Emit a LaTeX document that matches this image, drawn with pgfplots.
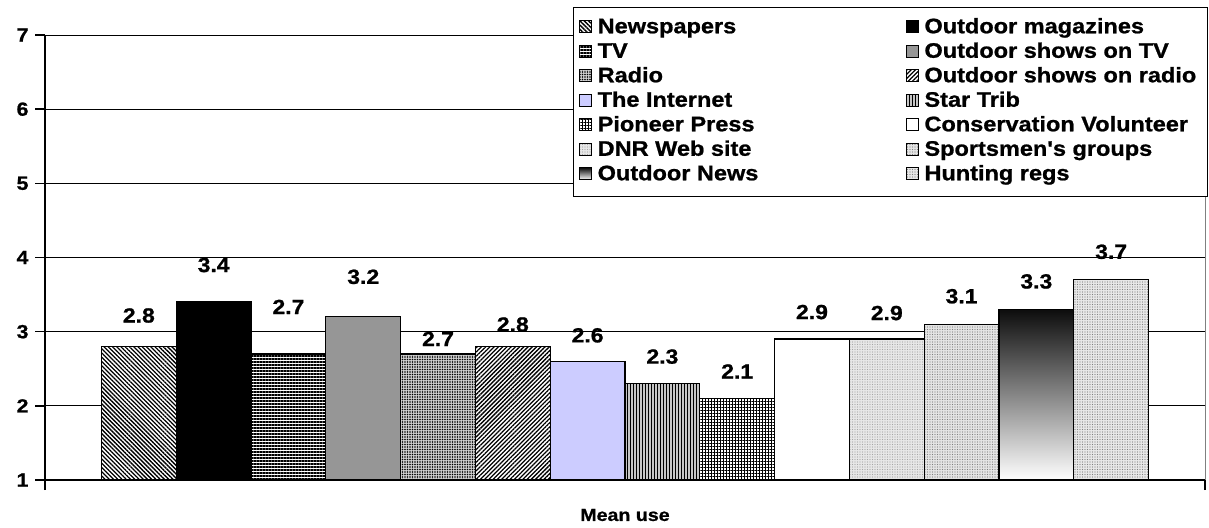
\documentclass[border=0pt]{standalone}
\usepackage{fontspec}
\setmainfont{Liberation Sans}[FakeStretch=1.12, Ligatures=TeXOff, BoldFeatures={FakeBold=1}]
\usepackage{pgfplots}
\pgfplotsset{compat=1.18}
\usetikzlibrary{patterns.meta}
\definecolor{ostv}{HTML}{969696}
\definecolor{inet}{HTML}{CCCCFF}
\newcommand{\la}[1]{\makebox[310pt][l]{\hspace{4pt}#1}}
\newcommand{\lb}[1]{\makebox[280pt][l]{\hspace{4pt}#1}}
\begin{document}
\begin{tikzpicture}
\useasboundingbox (0,0) rectangle (1209pt,527pt);
\begin{axis}[
  at={(45pt,47pt)}, anchor=south west,
  scale only axis, width=1160pt, height=445pt,
  xmin=-1.255, xmax=14.255, ymin=1, ymax=7,
  ytick={1,2,3,4,5,6,7},
  xtick={-1.255,14.255}, xticklabels={},
  axis lines=left, axis line style={-, line width=2pt},
  tick align=outside, major tick length=10pt,
  tick style={line width=1.5pt, black},
  ymajorgrids, grid style={line width=1pt, black},
  ticklabel style={font=\fontsize{19}{19}\selectfont\bfseries},
  yticklabel style={xshift=-3pt},
  /pgf/number format/assume math mode=true,
  /pgf/number format/.cd, fixed, precision=1, /pgfplots/.cd,
  xlabel={Mean use},
  xlabel style={at={(axis description cs:0.5,0)}, anchor=center, yshift=-35pt, font=\fontsize{17.5}{17.5}\selectfont\bfseries},
  mybar/.style={ybar, bar width=1, bar shift=0pt, draw=black, line width=1.3pt},
  lab/.style={nodes near coords, every node near coord/.append style={anchor=center, yshift=#1pt, font=\fontsize{20.5}{20.5}\selectfont\bfseries}},
  legend columns=2,
  legend cell align=left,
  legend image code/.code={\draw[#1, line width=0.8pt] (0pt,-4.5pt) rectangle (12pt,7.5pt);},
  legend style={at={(axis description cs:1,1)}, anchor=north east, xshift=3pt, yshift=28pt,
    draw=black, line width=1pt, fill=white, inner xsep=5pt, inner ysep=8.5pt,
    font=\fontsize{21}{21}\selectfont\bfseries,
    nodes={inner xsep=2pt, inner ysep=2.25pt, text height=15pt, text depth=5pt},
    row sep=0pt},
  after end axis/.code={\draw[gray, line width=1pt] (rel axis cs:1,0) -- (rel axis cs:1,1);},
]
% Newspapers
\addplot[mybar, fill=white, postaction={pattern={Lines[angle=-45,distance=3pt,line width=1.3pt]}}, lab=31] coordinates {(0,2.8)};
\addlegendentry{\la{Newspapers}}
% Outdoor magazines
\addplot[mybar, fill=black, lab=37] coordinates {(1,3.4)};
\addlegendentry{\lb{Outdoor magazines}}
% TV
\addplot[mybar, fill=white, postaction={pattern={Lines[angle=0,distance=3pt,line width=1.1pt]}}, lab=47] coordinates {(2,2.7)};
\addlegendentry{\la{TV}}
% Outdoor shows on TV
\addplot[mybar, fill=ostv, lab=40] coordinates {(3,3.2)};
\addlegendentry{\lb{Outdoor shows on TV}}
% Radio
\addplot[mybar, fill=gray!35, postaction={pattern={Dots[distance=2.5pt,radius=0.8pt]}}, lab=15] coordinates {(4,2.7)};
\addlegendentry{\la{Radio}}
% Outdoor shows on radio
\addplot[mybar, fill=white, postaction={pattern={Lines[angle=45,distance=3pt,line width=1.3pt]}}, lab=22] coordinates {(5,2.8)};
\addlegendentry{\lb{Outdoor shows on radio}}
% The Internet
\addplot[mybar, fill=inet, lab=26] coordinates {(6,2.6)};
\addlegendentry{\la{The Internet}}
% Star Trib
\addplot[mybar, fill=gray!45, postaction={pattern={Lines[angle=90,distance=3pt,line width=0.8pt]}}, lab=27] coordinates {(7,2.3)};
\addlegendentry{\lb{Star Trib}}
% Pioneer Press
\addplot[mybar, fill=white, postaction={pattern={Hatch[angle=0,distance=3pt,line width=0.8pt]}}, lab=27] coordinates {(8,2.1)};
\addlegendentry{\la{Pioneer Press}}
% Conservation Volunteer
\addplot[mybar, fill=white, lab=27] coordinates {(9,2.9)};
\addlegendentry{\lb{Conservation Volunteer}}
% DNR Web site
\addplot[mybar, fill=gray!18, postaction={pattern={Dots[distance=2.5pt,radius=0.6pt]}, pattern color=gray!70}, lab=26] coordinates {(10,2.9)};
\addlegendentry{\la{DNR Web site}}
% Sportsmen's groups
\addplot[mybar, fill=gray!20, postaction={pattern={Dots[distance=2.5pt,radius=0.7pt]}, pattern color=gray}, lab=28] coordinates {(11,3.1)};
\addlegendentry{\lb{Sportsmen's groups}}
% Outdoor News
\addplot[mybar, top color=black!95, bottom color=white, lab=28] coordinates {(12,3.3)};
\addlegendentry{\la{Outdoor News}}
% Hunting regs
\addplot[mybar, fill=gray!18, postaction={pattern={Dots[distance=2.5pt,radius=0.7pt]}, pattern color=gray}, lab=28] coordinates {(13,3.7)};
\addlegendentry{\lb{Hunting regs}}
\end{axis}
\end{tikzpicture}
\end{document}
